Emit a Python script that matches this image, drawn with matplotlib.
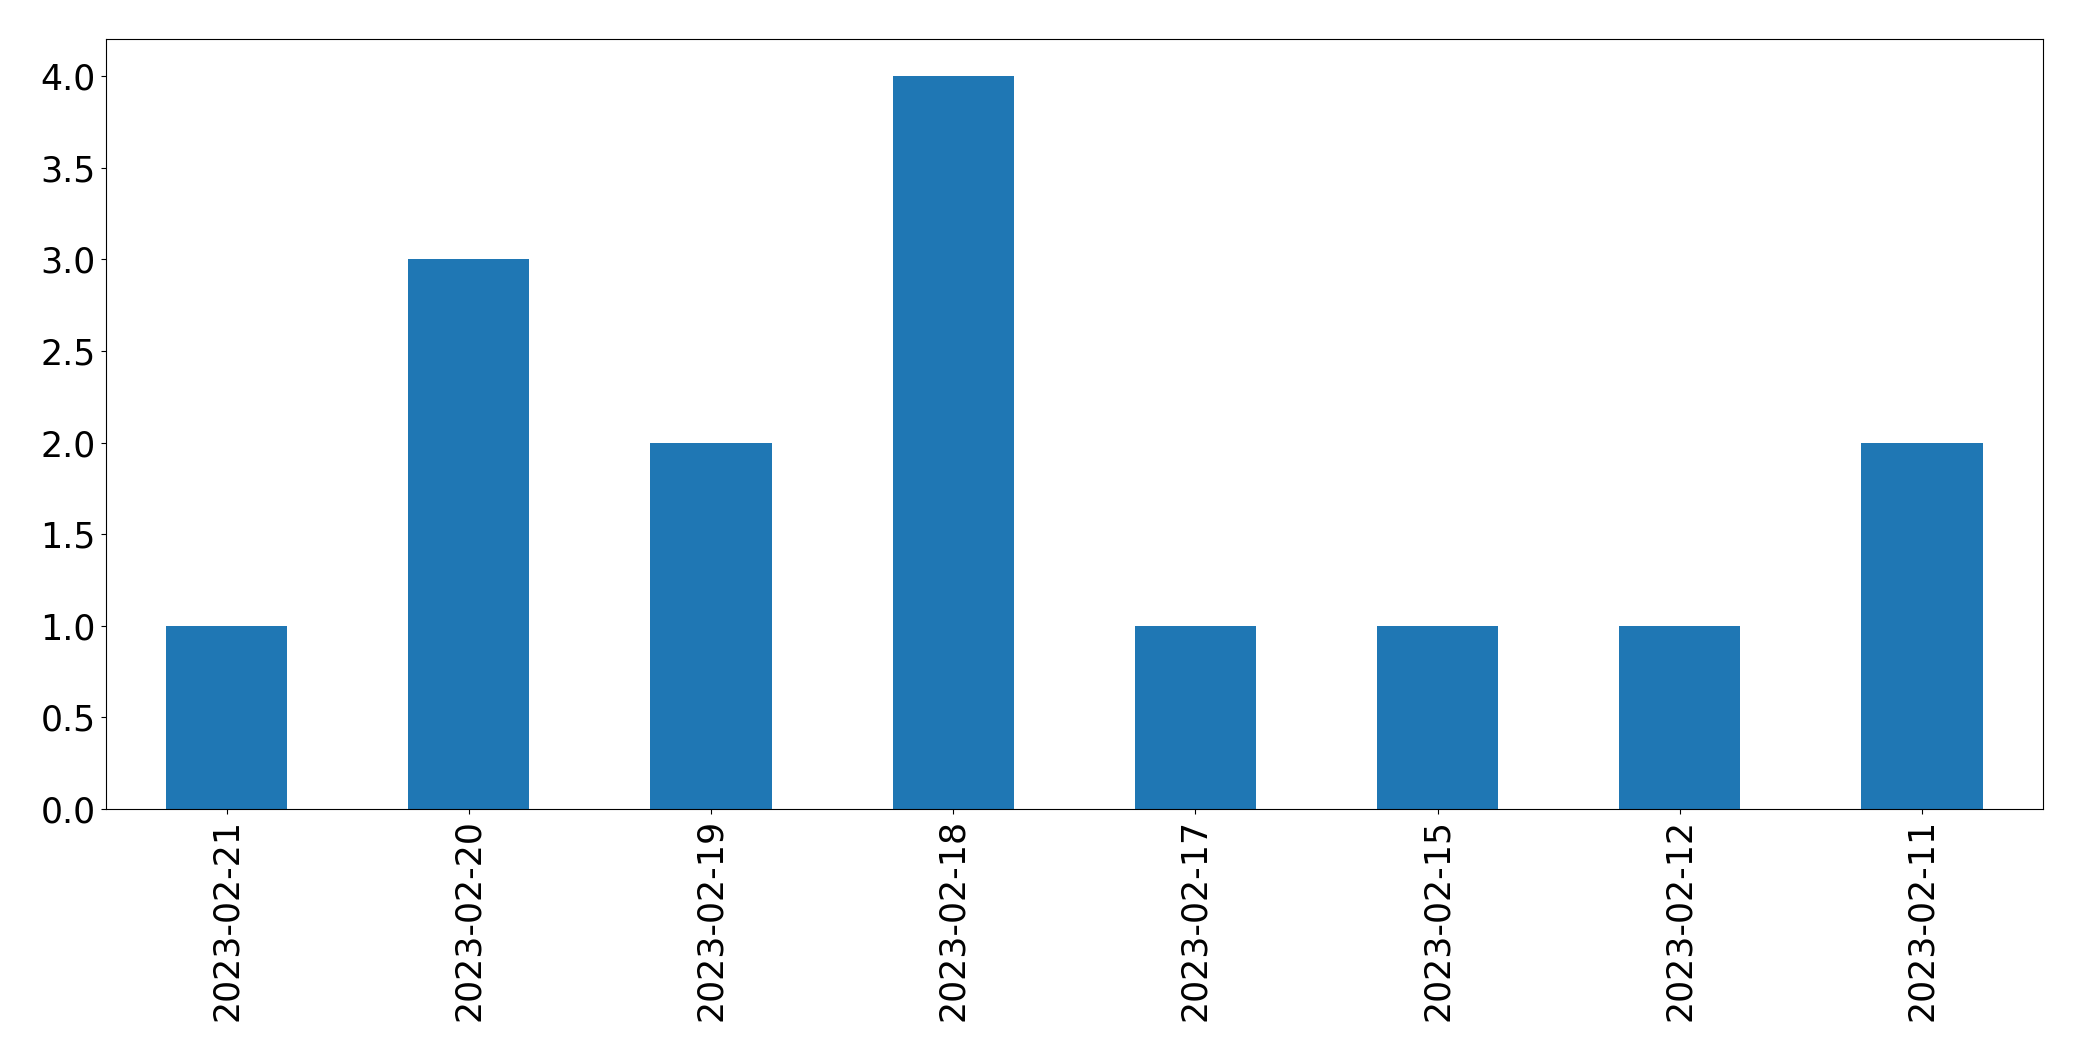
import matplotlib
matplotlib.use("Agg")
import matplotlib.pyplot as plt
import numpy as np

dates = ["2023-02-21", "2023-02-20", "2023-02-19", "2023-02-18",
         "2023-02-17", "2023-02-15", "2023-02-12", "2023-02-11"]
counts = [1, 3, 2, 4, 1, 1, 1, 2]

fig = plt.figure(figsize=(20.82, 10.61), dpi=100)
ax = fig.add_axes([0.0507, 0.2375, 0.9306, 0.7253])

x = np.arange(len(dates))
ax.bar(x, counts, width=0.5, color="#1f77b4")
ax.set_xlim(-0.5, len(dates) - 0.5)
ax.set_ylim(0, max(counts) * 1.05)
ax.set_xticks(x)
ax.set_xticklabels(dates, rotation=90)
ax.set_yticks(np.arange(0, 4.01, 0.5))
ax.tick_params(labelsize=25)

fig.savefig("out.png", dpi=100)
